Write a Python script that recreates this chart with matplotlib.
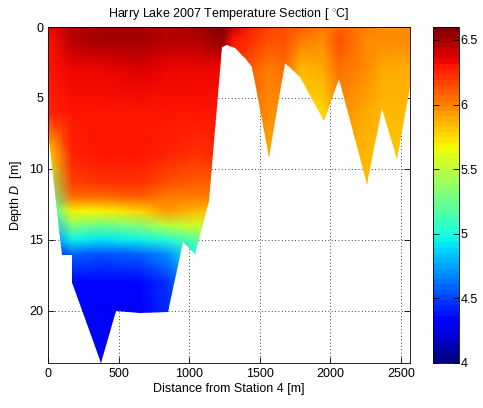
import numpy as np
import matplotlib.pyplot as plt
from matplotlib.patches import Polygon
from matplotlib.colors import Normalize
from matplotlib.cm import ScalarMappable

plt.rcParams['font.family'] = ['Liberation Sans', 'DejaVu Sans']
plt.rcParams['mathtext.fontset'] = 'custom'
plt.rcParams['mathtext.rm'] = 'Liberation Sans'
plt.rcParams['mathtext.it'] = 'Liberation Sans:italic'

# profile positions along the section [m] and sample depths [m]
dist = [0, 170, 375, 650, 850, 1045, 1240, 1310, 1445, 1560, 1680, 1790,
        1950, 2060, 2260, 2370, 2470, 2570]
depth = [0, 1, 3, 6, 9, 11, 12, 13, 14, 15, 16, 18, 24]

# temperature profiles, one list per position (values at the depths above)
profiles = [
    [6.32, 6.30, 6.28, 6.25, 5.75, 5.40, 5.15, 5.00, 4.80, 4.60, 4.45, 4.30, 4.30],
    [6.45, 6.45, 6.32, 6.28, 6.25, 6.18, 6.05, 5.70, 5.30, 4.95, 4.60, 4.35, 4.30],
    [6.48, 6.48, 6.35, 6.28, 6.28, 6.20, 6.05, 5.70, 5.25, 4.92, 4.55, 4.35, 4.25],
    [6.48, 6.48, 6.38, 6.28, 6.28, 6.20, 6.08, 5.75, 5.30, 4.95, 4.60, 4.35, 4.30],
    [6.45, 6.45, 6.35, 6.28, 6.25, 6.12, 6.02, 5.92, 5.50, 5.05, 4.70, 4.45, 4.40],
    [6.50, 6.45, 6.32, 6.28, 6.20, 6.10, 6.00, 5.85, 5.55, 5.20, 5.00, 4.80, 4.80],
    [6.60, 6.52, 6.35, 6.28, 6.25, 6.10, 6.00, 5.80, 5.50, 5.30, 5.10, 5.00, 5.00],
    [6.40, 6.30, 6.20, 6.15, 6.10, 6.10, 6.10, 6.10, 6.10, 6.10, 6.10, 6.10, 6.10],
    [6.25, 6.20, 6.10, 6.05, 6.00, 6.00, 6.00, 6.00, 6.00, 6.00, 6.00, 6.00, 6.00],
    [6.18, 6.12, 6.00, 5.95, 5.90, 5.90, 5.90, 5.90, 5.90, 5.90, 5.90, 5.90, 5.90],
    [6.12, 6.12, 6.05, 5.95, 5.90, 5.90, 5.90, 5.90, 5.90, 5.90, 5.90, 5.90, 5.90],
    [6.08, 6.02, 5.85, 5.75, 5.75, 5.75, 5.75, 5.75, 5.75, 5.75, 5.75, 5.75, 5.75],
    [6.02, 5.98, 5.90, 5.78, 5.75, 5.75, 5.75, 5.75, 5.75, 5.75, 5.75, 5.75, 5.75],
    [6.08, 6.12, 6.05, 5.95, 5.90, 5.90, 5.90, 5.90, 5.90, 5.90, 5.90, 5.90, 5.90],
    [6.02, 5.98, 5.95, 5.90, 5.85, 5.85, 5.85, 5.85, 5.85, 5.85, 5.85, 5.85, 5.85],
    [5.98, 5.95, 5.90, 5.85, 5.85, 5.85, 5.85, 5.85, 5.85, 5.85, 5.85, 5.85, 5.85],
    [5.98, 5.95, 5.90, 5.85, 5.80, 5.80, 5.80, 5.80, 5.80, 5.80, 5.80, 5.80, 5.80],
    [5.98, 5.95, 5.90, 5.85, 5.85, 5.85, 5.85, 5.85, 5.85, 5.85, 5.85, 5.85, 5.85],
]

# lake bottom along the section
bot_x = [0, 97, 168, 170, 374, 482, 652, 853, 955, 1043, 1142, 1231, 1267,
         1326, 1397, 1444, 1563, 1681, 1787, 1953, 2059, 2260, 2367, 2473, 2567]
bot_d = [7.4, 16.1, 16.1, 18.0, 23.7, 20.0, 20.2, 20.1, 15.2, 16.0, 12.3, 1.4, 1.3,
         1.5, 2.2, 2.8, 9.2, 2.55, 3.5, 6.6, 3.7, 11.1, 5.7, 9.3, 4.2]

T = np.array(profiles).T
cmap = plt.get_cmap('jet', 64)
norm = Normalize(vmin=4, vmax=6.6)

fig = plt.figure(figsize=(4.83, 4.08), dpi=100)
ax = fig.add_axes([0.0994, 0.1103, 0.7502, 0.8235])
cax = fig.add_axes([0.8965, 0.1103, 0.0538, 0.8235])

mesh = ax.pcolormesh(dist, depth, T, shading='gouraud', cmap=cmap, norm=norm)

# keep only the water column above the bottom
water = [(bot_x[0], 0)] + list(zip(bot_x, bot_d)) + [(bot_x[-1], 0)]
clip = Polygon(water, closed=True, transform=ax.transData)
mesh.set_clip_path(clip)

ax.set_xlim(0, 2567)
ax.set_ylim(23.7, 0)
ax.set_xticks([0, 500, 1000, 1500, 2000, 2500])
ax.set_yticks([0, 5, 10, 15, 20])
ax.set_axisbelow(True)
ax.grid(True, color='k', linestyle=(0, (1, 3)), linewidth=0.6)
ax.tick_params(direction='in', top=True, right=True, length=4, labelsize=9,
               width=0.6)
for s in ax.spines.values():
    s.set_linewidth(0.6)

ax.set_title('Harry Lake 2007 Temperature Section [ $^{\\circ}$C]', fontsize=9, pad=7)
ax.set_xlabel('Distance from Station 4 [m]', fontsize=9, labelpad=2)
ax.set_ylabel('Depth $D$  [m]', fontsize=9, labelpad=4)

cb = fig.colorbar(ScalarMappable(norm=norm, cmap=cmap), cax=cax,
                  ticks=[4, 4.5, 5, 5.5, 6, 6.5])
cb.ax.set_yticklabels(['4', '4.5', '5', '5.5', '6', '6.5'])
cax.tick_params(direction='in', left=True, right=True, length=4, labelsize=9,
                width=0.6, pad=1)
cb.outline.set_linewidth(0.6)

fig.savefig('out.png', dpi=100)
